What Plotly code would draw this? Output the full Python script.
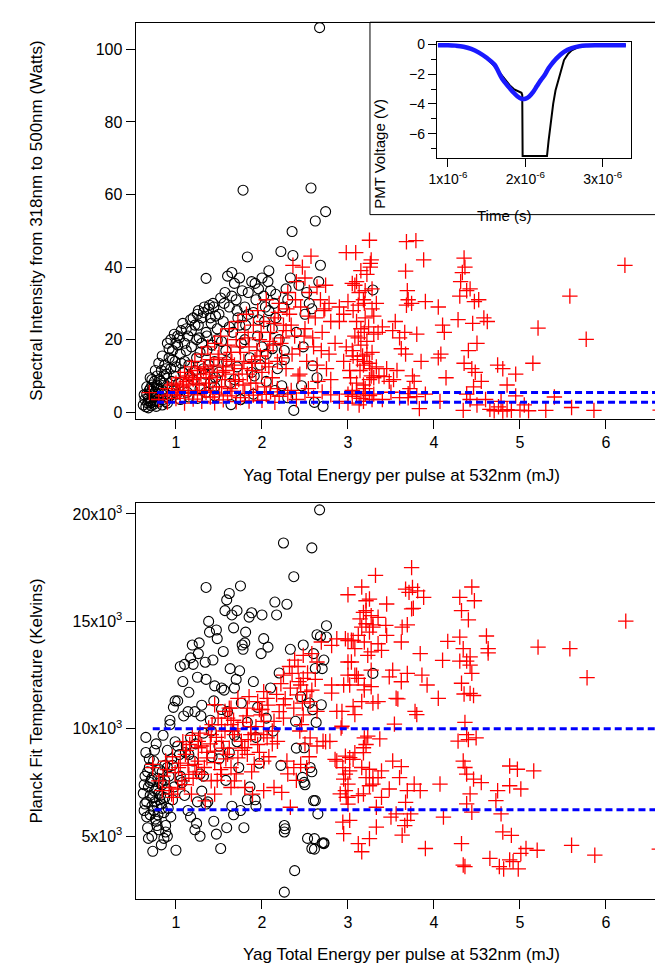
import plotly.graph_objects as go

# ---- top panel: spectral intensity (W) vs YAG energy (mJ) ----
top_black_e = [
    0.62, 0.64, 0.65, 0.66, 0.67, 0.68, 0.69, 0.70, 0.71, 0.72,
    0.73, 0.74, 0.75, 0.76, 0.77, 0.78, 0.79, 0.80, 0.81, 0.82,
    0.83, 0.84, 0.85, 0.86, 0.87, 0.88, 0.89, 0.90, 0.91, 0.92,
    0.93, 0.94, 0.95, 0.96, 0.97, 0.98, 0.99, 1.00, 1.01, 1.02,
    0.63, 0.66, 0.68, 0.70, 0.72, 0.75, 0.78, 0.80, 0.84, 0.88,
    0.68, 0.71, 0.74, 0.77, 0.91, 1.05, 1.15, 1.25, 1.35, 1.45,
    1.03, 1.05, 1.06, 1.08, 1.10, 1.12, 1.13, 1.15, 1.17, 1.18,
    1.20, 1.22, 1.24, 1.25, 1.27, 1.28, 1.30, 1.32, 1.33, 1.35,
    1.36, 1.38, 1.40, 1.41, 1.43, 1.45, 1.46, 1.48, 1.50, 1.52,
    1.35, 1.39, 1.26, 1.45, 1.55, 1.57, 1.58, 1.60, 1.62, 1.63,
    1.65, 1.66, 1.68, 1.70, 1.71, 1.72, 1.74, 1.75, 1.76, 1.78,
    1.80, 1.81, 1.83, 1.84, 1.86, 1.88, 1.90, 1.91, 1.93, 1.95,
    1.96, 1.98, 2.00, 2.02, 2.03, 2.05, 2.07, 2.08, 2.10, 2.12,
    2.14, 2.16, 2.18, 2.20, 2.22, 2.23, 2.25, 2.26, 2.28, 2.30,
    2.33, 2.35, 2.36, 2.37, 2.40, 2.43, 2.46, 2.48, 2.50, 2.52,
    2.55, 2.57, 2.59, 2.61, 2.62, 2.64, 2.66, 2.67, 2.68, 2.71,
    2.74, 3.29, 1.64, 1.75, 2.26, 2.58, 2.30, 2.15, 2.05, 1.90,
    0.70, 0.72, 0.74, 0.76, 0.78, 0.80, 0.82, 0.84, 0.86, 0.88,
    0.90, 0.92, 0.94, 0.96, 0.98, 1.00, 1.02, 1.04, 1.06, 1.08,
    1.10, 1.12, 1.14, 1.16, 1.18, 1.20, 1.22, 1.24, 1.26, 1.28,
    1.30, 1.32, 1.34, 1.36, 1.38, 1.40, 1.42, 1.44, 1.46, 1.48,
    1.50, 1.53, 1.56, 1.59, 1.62, 1.65, 1.68, 1.71, 1.74, 1.77,
    1.80, 1.84, 1.88, 1.92, 1.96, 2.00, 2.04, 2.08, 2.12, 2.16,
]
top_black_w = [
    2.0, 3.5, 1.5, 5.0, 2.5, 4.0, 6.0, 3.0, 1.8, 7.5,
    4.5, 2.2, 8.5, 5.5, 3.2, 10.0, 6.5, 2.8, 9.0, 4.2,
    11.5, 6.0, 3.5, 8.0, 13.0, 5.0, 10.5, 2.5, 7.0, 15.0,
    4.5, 12.0, 8.5, 17.0, 6.0, 10.0, 14.0, 19.0, 5.0, 21.0,
    4.8, 7.0, 1.2, 9.5, 5.8, 3.0, 7.5, 5.2, 2.0, 3.0,
    3.2, 2.6, 6.8, 1.6, 4.0, 3.5, 4.2, 3.8, 5.5, 7.0,
    8.0, 16.0, 22.5, 11.0, 19.0, 23.0, 5.5, 13.0, 25.5, 18.0,
    9.0, 24.0, 15.0, 27.0, 20.5, 6.5, 26.0, 12.0, 29.0, 22.0,
    17.0, 28.5, 8.0, 24.5, 30.0, 14.0, 26.5, 20.0, 11.0, 31.5,
    36.9, 29.5, 28.0, 4.5, 25.0, 33.0, 17.0, 37.5, 29.0, 8.0,
    38.5, 22.0, 35.5, 31.0, 12.5, 26.0, 37.0, 3.5, 19.0, 61.2,
    29.0, 24.0, 42.8, 33.0, 15.0, 36.0, 27.5, 10.0, 31.0, 21.0,
    34.0, 13.0, 37.0, 32.0, 25.0, 16.0, 36.0, 28.0, 33.5, 23.0,
    30.0, 26.0, 12.0, 20.0, 44.3, 7.3, 29.0, 14.5, 34.0, 31.0,
    37.0, 49.8, 43.2, 0.5, 22.0, 35.0, 7.3, 18.0, 27.0, 33.0,
    30.0, 61.8, 12.8, 2.7, 52.7, 9.5, 36.0, 106.0, 40.5, 1.6,
    55.3, 33.7, 2.1, 3.5, 17.0, 28.5, 4.0, 6.0, 8.5, 5.0,
    6.5, 9.0, 4.0, 11.5, 7.0, 13.5, 8.5, 15.5, 10.0, 12.0,
    19.0, 17.5, 20.0, 14.5, 21.5, 12.5, 18.5, 20.5, 13.5, 24.5,
    14.0, 17.0, 21.0, 10.0, 22.5, 26.0, 11.5, 20.0, 24.0, 16.5,
    19.0, 27.5, 10.5, 21.0, 13.0, 26.0, 18.5, 29.0, 9.5, 23.0,
    27.0, 19.5, 30.0, 14.0, 23.5, 32.0, 9.0, 28.0, 24.0, 33.5,
    20.0, 27.0, 11.0, 35.5, 25.5, 18.0, 29.0, 39.0, 17.5, 32.5,
]

top_red_e = [
    0.69, 0.80, 0.85, 0.90, 0.95, 1.00, 1.05, 1.10, 1.15, 1.20,
    1.25, 1.30, 1.35, 1.40, 1.45, 1.50, 1.55, 1.60, 1.65, 1.70,
    1.75, 1.80, 1.85, 1.90, 1.95, 2.00, 2.05, 2.10, 2.15, 2.20,
    2.30, 2.40, 2.50, 2.60, 2.70, 2.80, 2.90, 3.00, 3.05, 3.10,
    3.15, 3.20, 3.25, 3.30, 3.40, 3.50, 3.60, 3.70, 3.80, 3.90,
    0.90, 0.95, 1.00, 1.02, 1.05, 1.08, 1.10, 1.12, 1.15, 1.18,
    1.20, 1.22, 1.25, 1.27, 1.30, 1.32, 1.35, 1.37, 1.40, 1.42,
    1.45, 1.47, 1.50, 1.52, 1.55, 1.57, 1.60, 1.62, 1.65, 1.67,
    1.70, 1.72, 1.75, 1.77, 1.80, 1.82, 1.85, 1.87, 1.90, 1.92,
    1.95, 1.97, 2.00, 2.02, 2.05, 2.07, 2.10, 2.12, 2.15, 2.18,
    2.20, 2.22, 2.25, 2.28, 2.30, 2.32, 2.35, 2.38, 2.40, 2.42,
    2.45, 2.47, 2.50, 2.52, 2.55, 2.57, 2.60, 2.62, 2.65, 2.68,
    2.70, 2.72, 2.75, 2.78, 2.80, 2.85, 2.90, 2.95, 2.98, 2.50,
    1.33, 1.38, 1.43, 1.48, 1.53, 1.58, 1.63, 1.68, 1.73, 1.78,
    1.83, 1.88, 1.93, 1.98, 2.03, 2.08, 2.13, 2.18, 2.23, 2.28,
    3.25, 3.09, 3.27, 3.26, 3.15, 3.22, 3.26, 3.05, 3.10, 3.08,
    3.20, 3.28, 3.19, 2.78, 2.73, 2.80, 2.90, 2.95, 3.00, 3.06,
    3.12, 3.18, 3.28, 3.33, 3.15, 3.19, 3.24, 3.30, 3.12, 3.35,
    3.52, 3.40, 2.98, 3.06, 3.11, 3.17, 3.22, 3.19, 3.25, 3.28,
    3.33, 3.02, 3.14, 3.27, 3.30, 3.25, 3.10, 3.03, 3.18, 3.36,
    3.42, 3.48, 3.45, 3.05, 3.10, 3.20, 3.18, 3.00, 3.13, 3.28,
    3.68, 3.79, 3.67, 3.88, 3.69, 3.70, 3.68, 3.74, 3.90, 3.55,
    3.60, 3.66, 3.80, 3.62, 3.67, 3.85, 4.05, 3.57, 3.53, 3.75,
    3.77, 3.72, 3.83, 3.70, 4.05, 4.10, 4.12, 4.08, 4.14, 4.07,
    4.35, 4.33, 4.36, 4.31, 4.38, 4.30, 4.42, 4.47, 4.28, 4.52,
    4.62, 4.58, 4.45, 4.40, 4.50, 4.35, 4.44, 4.48, 4.55, 4.38,
    4.42, 4.46, 4.34, 4.50, 4.65, 4.70, 4.75, 4.80, 4.85, 4.90,
    4.74, 4.80, 4.95, 4.85, 4.78, 4.95, 5.00, 5.10, 5.15, 5.21,
    5.30, 5.58, 5.60, 5.77, 5.86, 6.22, 6.63, 5.40, 4.60, 5.05,
    1.04, 1.09, 1.14, 1.19, 1.24, 1.29, 1.34, 1.39, 1.44, 1.49,
    1.54, 1.59, 1.64, 1.69, 1.74, 1.79, 1.84, 1.89, 1.94, 1.99,
    2.04, 2.09, 2.14, 2.19, 2.24, 2.29, 2.34, 2.39, 2.44, 2.49,
    2.54, 2.59, 2.64, 2.69, 2.74, 2.34, 2.44, 2.54, 2.64, 2.36,
    3.05, 3.15, 3.22, 3.10, 3.20, 3.30, 3.08, 3.18, 3.28, 3.13,
]
top_red_w = [
    5.4, 3.5, 4.5, 2.8, 5.0, 3.8, 4.6, 2.5, 5.2, 3.6,
    4.8, 3.0, 5.5, 4.2, 2.6, 5.0, 3.4, 4.5, 5.8, 2.9,
    4.0, 5.2, 3.1, 4.7, 5.5, 3.3, 4.9, 5.6, 2.7, 4.4,
    5.0, 3.5, 5.3, 4.1, 5.6, 4.8, 3.0, 5.0, 4.4, 5.6,
    3.8, 5.2, 4.6, 5.0, 3.5, 5.5, 4.0, 5.1, 4.3, 5.0,
    6.5, 7.5, 8.0, 6.0, 9.5, 7.0, 11.0, 8.5, 10.0, 12.5,
    9.0, 14.0, 11.5, 7.5, 16.0, 12.0, 9.5, 18.0, 14.5, 11.0,
    19.0, 7.0, 16.0, 21.0, 12.5, 9.0, 18.5, 23.0, 14.0, 10.5,
    20.0, 25.0, 16.5, 12.0, 22.0, 27.0, 18.0, 8.0, 24.0, 14.5,
    28.0, 20.0, 11.0, 25.0, 31.0, 17.0, 22.0, 9.5, 26.0, 14.0,
    30.0, 19.0, 24.0, 12.0, 33.0, 27.0, 16.0, 21.0, 36.0, 10.0,
    29.0, 40.0, 23.0, 14.0, 33.0, 43.0, 18.0, 26.0, 8.5, 31.0,
    22.0, 28.0, 12.0, 16.0, 9.0, 19.0, 25.0, 14.0, 44.0, 37.0,
    6.0, 8.0, 5.5, 10.0, 7.0, 11.5, 6.5, 13.0, 9.0, 7.5,
    10.5, 13.5, 8.0, 15.5, 7.0, 12.5, 18.5, 6.5, 15.0, 22.5,
    47.4, 44.0, 42.0, 41.0, 39.0, 38.0, 40.0, 35.5, 36.0, 35.0,
    33.5, 34.0, 30.0, 30.0, 28.5, 25.0, 29.0, 27.0, 30.5, 28.0,
    29.5, 31.0, 28.5, 30.0, 23.0, 22.0, 23.5, 21.5, 20.5, 22.0,
    22.5, 23.5, 18.0, 15.5, 14.5, 15.5, 16.0, 14.0, 13.5, 12.0,
    12.5, 11.5, 11.5, 10.0, 9.5, 9.0, 8.0, 9.5, 7.5, 10.0,
    9.8, 8.5, 12.0, 6.0, 5.0, 6.5, 3.0, 2.5, 2.0, 3.5,
    47.0, 47.3, 38.9, 42.0, 33.5, 31.0, 29.5, 30.0, 30.5, 25.0,
    20.5, 22.0, 21.5, 17.5, 16.0, 14.0, 15.0, 11.5, 9.0, 10.0,
    8.5, 6.5, 1.0, 4.0, 29.0, 24.0, 22.0, 16.0, 9.5, 3.0,
    42.5, 38.5, 40.0, 36.0, 33.5, 32.0, 34.0, 30.5, 25.5, 31.0,
    25.0, 26.0, 24.5, 17.0, 19.0, 13.5, 12.0, 11.0, 8.5, 5.0,
    3.5, 7.0, 0.5, 2.0, 0.8, 0.4, 1.5, 0.3, 0.7, 0.5,
    13.0, 12.0, 10.5, 7.5, 3.0, 4.5, 0.6, 0.4, 13.5, 23.2,
    0.5, 32.0, 1.3, 20.1, 0.5, 40.5, 0.6, 4.2, 3.5, 2.0,
    5.5, 7.5, 6.0, 9.5, 8.0, 10.5, 12.5, 9.5, 13.0, 15.0,
    11.0, 14.5, 16.5, 8.5, 18.0, 14.0, 20.5, 11.5, 17.0, 22.0,
    13.5, 19.5, 24.5, 27.5, 20.5, 28.5, 24.0, 31.0, 17.5, 21.0,
    26.5, 20.5, 34.5, 17.0, 35.0, 6.0, 10.5, 6.5, 13.0, 40.5,
    17.0, 18.5, 19.5, 25.0, 26.0, 26.5, 21.0, 13.0, 16.5, 33.0,
]

# ---- bottom panel: Planck fit temperature (K) vs YAG energy (mJ) ----
bottom_black_e = [
    0.62, 0.63, 0.64, 0.65, 0.66, 0.67, 0.68, 0.69, 0.70, 0.71,
    0.72, 0.73, 0.74, 0.75, 0.76, 0.77, 0.78, 0.79, 0.80, 0.81,
    0.82, 0.83, 0.84, 0.85, 0.86, 0.87, 0.88, 0.89, 0.90, 0.91,
    0.92, 0.93, 0.94, 0.95, 0.96, 0.97, 0.98, 0.99, 1.00, 0.65,
    0.68, 0.70, 0.73, 0.75, 0.77, 0.80, 0.83, 0.86, 0.88, 0.90,
    0.64, 0.67, 0.70, 0.72, 0.74, 0.77, 0.79, 0.82, 0.84, 0.87,
    1.02, 1.04, 1.05, 1.07, 1.09, 1.10, 1.12, 1.14, 1.15, 1.17,
    1.19, 1.20, 1.22, 1.24, 1.25, 1.27, 1.28, 1.30, 1.32, 1.34,
    1.35, 1.37, 1.39, 1.40, 1.42, 1.43, 1.45, 1.47, 1.48, 1.50,
    1.52, 1.53, 1.55, 1.57, 1.58, 1.60, 1.62, 1.63, 1.65, 1.67,
    1.68, 1.70, 1.71, 1.73, 1.75, 1.76, 1.78, 1.79, 1.81, 1.83,
    1.85, 1.86, 1.88, 1.90, 1.92, 1.93, 1.95, 1.97, 1.99, 2.00,
    2.02, 2.05, 2.07, 2.10, 2.13, 2.15, 2.17, 2.20, 2.22, 2.25,
    2.26, 2.26, 2.27, 2.26, 2.29, 2.33, 2.37, 2.38, 2.40, 2.45,
    2.48, 2.50, 2.53, 2.55, 2.58, 2.58, 2.60, 2.61, 2.63, 2.67,
    2.68, 2.70, 2.72, 2.72, 2.75, 1.17, 1.22, 1.28, 1.44, 1.59,
    1.67, 1.75, 1.83, 1.93, 1.25, 1.35, 1.10, 1.05, 1.15, 1.30,
    2.69, 2.59, 2.39, 2.49, 2.56, 2.47, 2.49, 2.62, 2.64, 2.75,
    3.29, 2.62, 2.60, 2.65, 2.61, 2.70, 2.58, 2.72,
    0.63, 0.66, 0.69, 0.72, 0.75, 0.78, 0.81, 0.84, 0.87, 0.90,
    0.93, 0.96, 0.99, 1.02, 1.05, 1.08, 1.11, 1.14, 1.17, 1.20,
    1.23, 1.26, 1.29, 1.32, 1.35, 1.38, 1.41, 1.44, 1.47, 1.50,
    1.53, 1.56, 1.59, 1.62, 1.65, 1.68, 1.71, 1.74, 1.77, 1.80,
]
bottom_black_t = [
    7000, 6200, 7800, 8900, 6600, 5400, 7300, 8200, 6000, 7600,
    5000, 6800, 8500, 7100, 5800, 9300, 6400, 7700, 5300, 8100,
    6900, 4600, 7400, 9700, 6100, 8300, 5500, 7200, 9000, 6300,
    7800, 10200, 5900, 8600, 6700, 11000, 7300, 9400, 4350, 9600,
    4900, 7500, 4300, 6600, 5700, 7000, 6500, 4900, 5200, 5000,
    6500, 8000, 6900, 7700, 6200, 7200, 6000, 7500, 6300, 6800,
    11300, 8800, 12900, 7500, 10600, 13000, 9200, 6200, 11700, 13300,
    13900, 8500, 10800, 5600, 12400, 14000, 7900, 11100, 9800, 13100,
    16580, 6600, 14500, 10400, 8700, 13200, 12000, 5100, 14200, 9200,
    4430, 11900, 13600, 15500, 7600, 10800, 16300, 12800, 6400, 14700,
    9700, 12300, 15500, 8200, 16650, 11200, 13700, 5400, 14500, 10300,
    15200, 7300, 15400, 12200, 6700, 9600, 11000, 8400, 13500, 15300,
    14200, 10500, 13800, 11900, 9900, 15900, 15300, 12600, 8300, 18650,
    5200, 5500, 5350, 2400, 15800, 13700, 17080, 3400, 9100, 11500,
    13900, 7400, 4900, 11200, 18420, 8000, 13500, 4400, 10300, 20190,
    14300, 12800, 4660, 4700, 14800, 5900, 5300, 5000, 5700, 5400,
    6000, 6200, 6700, 6400, 6600, 6500, 6900, 7800, 8800, 7100,
    11120, 10890, 10350, 9120, 8200, 7740, 7510, 6660, 14380, 14270,
    12580, 12810, 6660, 6040, 4890, 4690, 4430, 13200,
    7400, 5900, 8600, 6400, 9000, 5500, 6700, 8000, 7600, 8200,
    10400, 8300, 11300, 9200, 7600, 12200, 8900, 10800, 9600, 13000,
    9300, 13500, 10600, 7800, 12300, 15000, 9900, 11300, 14600, 8600,
    10900, 11800, 16000, 8900, 15300, 11900, 9400, 12700, 13900, 14000,
]

bottom_red_e = [
    0.73, 0.80, 0.92, 0.97, 0.99, 1.11, 1.26, 1.41, 1.53, 1.64,
    1.72, 1.85, 1.95, 2.06, 1.62, 1.83, 2.02, 2.25, 2.35, 2.45,
    2.48, 2.58, 2.64, 2.41, 2.37, 2.48, 2.46, 2.56, 2.64, 2.71,
    2.81, 2.87, 2.69, 2.25, 2.14, 2.02, 2.06, 1.95, 1.80, 1.68,
    1.53, 1.45, 1.36, 1.22, 1.15, 1.07, 1.03, 1.30, 1.41, 1.53,
    1.64, 1.72, 1.83, 1.91, 1.64, 1.45, 1.34, 1.18, 0.95, 1.68,
    1.80, 1.89, 2.02, 2.14, 2.23, 2.33, 2.29, 2.37, 2.45, 2.52,
    2.02, 2.18, 1.99, 1.64, 1.49, 1.38, 1.26, 1.16, 1.26, 1.45,
    1.60, 1.76, 1.87, 1.45, 1.60, 1.57, 2.48, 2.43, 2.52, 2.33,
    2.25, 2.56, 2.64, 2.94, 3.02, 2.87, 2.79, 2.92, 3.02, 3.00,
    3.10, 3.06, 3.00, 2.98, 3.00, 2.94, 0.88, 0.73, 0.84, 1.10,
    1.05, 1.12, 1.20, 1.28, 1.33, 1.40, 1.48, 1.55, 1.58, 1.66,
    1.70, 1.78, 1.84, 1.88, 1.93, 1.97, 2.00, 2.08, 2.12, 2.20,
    3.00, 3.16, 3.32, 3.21, 3.25, 3.18, 3.21, 3.27, 3.45, 3.14,
    3.16, 3.21, 3.29, 3.29, 3.35, 3.44, 3.25, 3.12, 2.97, 3.04,
    3.19, 3.08, 3.39, 3.35, 3.27, 3.23, 3.04, 3.27, 3.00, 3.08,
    3.12, 3.19, 3.19, 3.27, 2.95, 2.81, 2.81, 3.35, 3.29, 3.16,
    3.06, 3.08, 2.93, 2.87, 3.74, 3.67, 3.71, 3.75, 3.81, 3.88,
    3.74, 3.76, 3.62, 3.63, 3.69, 3.45, 3.52, 3.48, 3.62, 3.69,
    3.84, 3.86, 3.92, 3.56, 3.58, 3.78, 3.80, 3.54, 2.93, 4.30,
    4.44, 4.47, 4.32, 4.40, 4.61, 4.63, 4.63, 4.16, 4.30, 4.34,
    4.42, 4.30, 4.38, 4.42, 4.44, 4.32, 4.42, 4.35, 4.46, 4.05,
    4.10, 5.21, 5.58, 5.78, 6.23, 4.36, 4.38, 4.28, 4.49, 4.40,
    3.19, 3.23, 3.18, 3.37, 3.21, 2.74, 2.85, 2.97, 3.02, 3.06,
    3.18, 3.08, 3.52, 3.62, 3.39, 3.25, 3.21, 3.29, 3.16, 2.97,
    2.95, 3.00, 2.97, 2.91, 3.00, 3.12, 3.18, 3.25, 3.29, 3.35,
    3.48, 3.60, 3.69, 3.77, 3.84, 3.67, 3.39, 3.33, 4.34, 4.36,
    4.38, 4.46, 4.55, 4.07, 4.42, 4.38, 4.74, 4.72, 4.88, 4.88,
    4.97, 5.16, 5.01, 4.44, 4.78, 4.80, 4.90, 4.32, 4.34, 4.36,
    4.65, 4.76, 4.81, 4.88, 4.92, 4.98, 5.01, 5.07, 5.20, 5.60,
    5.87, 6.62, 3.90, 3.16, 3.12, 3.25, 2.95, 3.02, 3.33, 3.63,
    3.69, 3.66, 3.50, 3.56, 3.73, 4.11,
    0.85, 0.90, 0.96, 1.02, 1.08, 1.14, 1.19, 1.24, 1.30, 1.36,
    1.42, 1.47, 1.52, 1.57, 1.62, 1.67, 1.72, 1.77, 1.82, 1.87,
    1.92, 1.97, 2.02, 2.07, 2.12, 2.17, 2.22, 2.27, 2.32, 2.38,
    2.42, 2.47, 2.53, 2.58, 2.62, 2.44, 2.50, 2.55, 2.40, 2.30,
]
bottom_red_t = [
    8350, 7580, 7270, 6810, 7960, 8810, 9120, 9730, 10200, 10960,
    11420, 11500, 11270, 11420, 10960, 10960, 11730, 12500, 12580, 12040,
    13420, 13500, 13110, 11580, 10960, 10650, 10200, 11270, 10810, 9420,
    13880, 14190, 14040, 11120, 10350, 10350, 9580, 9270, 9120, 9730,
    9420, 8960, 8650, 8350, 7880, 7580, 8190, 7880, 7580, 7880,
    8190, 8650, 8810, 8350, 7270, 6960, 6650, 6960, 6960, 7580,
    7270, 6960, 7120, 7270, 7040, 6350, 8500, 8190, 8350, 8190,
    9730, 9420, 10650, 10200, 10500, 10040, 9420, 9270, 8500, 8430,
    8810, 9420, 9730, 11120, 10500, 10810, 12350, 12200, 11730, 11890,
    10500, 9580, 9200, 8190, 8040, 8500, 9420, 10040, 12040, 13110,
    12500, 14110, 14110, 6810, 6500, 5660, 8500, 8190, 7120, 7400,
    8400, 9000, 7700, 9800, 8200, 9300, 7600, 9100, 8600, 9900,
    7900, 10300, 9500, 8000, 10100, 8900, 10900, 8700, 9900, 10800,
    16240, 16600, 17140, 15960, 16040, 15420, 15500, 15270, 15810, 15120,
    14730, 14890, 14840, 14730, 15190, 14810, 14500, 14350, 14190, 14120,
    14040, 13730, 13650, 13960, 13580, 13420, 13110, 12730, 12500, 12500,
    12350, 12040, 11810, 11960, 12040, 12040, 11660, 11270, 11200, 11270,
    11040, 10660, 10810, 10810, 17500, 16500, 16350, 16580, 16420, 16120,
    15580, 15610, 14040, 14730, 14840, 14350, 12730, 12420, 12190, 12580,
    13500, 12500, 12040, 11420, 11390, 10810, 10660, 10220, 10120, 16120,
    16600, 15960, 15500, 15070, 14320, 13730, 13530, 14070, 14270, 13730,
    13350, 13150, 13150, 12960, 12580, 12120, 11650, 11620, 11550, 11420,
    13190, 13800, 13730, 12380, 15010, 10300, 9730, 9430, 9580, 9500,
    9580, 9660, 9120, 9530, 9270, 9400, 8580, 8730, 8660, 8580,
    8890, 8890, 8500, 8240, 8040, 8120, 7730, 7730, 8200, 7890,
    7660, 7430, 7120, 6970, 6810, 6890, 6970, 7350, 7430, 7730,
    7200, 7730, 7120, 7430, 7120, 6580, 6810, 6350, 8500, 8200,
    7890, 7660, 7500, 7430, 6970, 6510, 7120, 6660, 7350, 8270,
    8120, 8040, 7200, 6120, 6040, 5200, 5040, 4660, 3660, 3590,
    3970, 3590, 3480, 3900, 3820, 3480, 4200, 4430, 4350, 4580,
    4120, 4400, 4430, 4280, 4660, 4890, 5120, 5740, 5430, 5050,
    5740, 5500, 5890, 6040, 6040, 5890,
    7800, 8100, 8700, 7200, 9400, 8300, 9700, 8000, 9200, 8900,
    10200, 9600, 8100, 9900, 9100, 10400, 10000, 9000, 10600, 10100,
    9800, 10900, 8500, 11100, 9300, 11600, 12100, 11400, 12900, 13200,
    12900, 11200, 12600, 11800, 12300, 9900, 9300, 8700, 7600, 7900,
]

# dashed threshold lines (start energy, level)
top_thresholds = [5.45, 2.73]
top_threshold_start = [0.78, 0.78]
bottom_thresholds = [10000, 6230]
bottom_threshold_start = [0.73, 0.75]
energy_max = 6.71

# ---- inset: PMT traces, time in units of 1e-6 s ----
pmt_blue_t = [0.87, 1.0, 1.1, 1.2, 1.3, 1.4, 1.5, 1.6, 1.7, 1.8, 1.85, 1.9, 1.95,
              2.0, 2.05, 2.1, 2.15, 2.2, 2.25, 2.3, 2.35, 2.4, 2.5, 2.6, 2.7, 2.8,
              2.9, 3.0, 3.1, 3.2, 3.3]
pmt_blue_v = [-0.05, -0.05, -0.08, -0.15, -0.3, -0.55, -0.9, -1.35, -2.3, -2.95,
              -3.25, -3.5, -3.65, -3.65, -3.5, -3.2, -2.8, -2.4, -2.05, -1.6, -1.25,
              -0.95, -0.5, -0.25, -0.12, -0.07, -0.05, -0.05, -0.05, -0.05, -0.05]
pmt_black_t = [0.87, 1.0, 1.1, 1.2, 1.3, 1.4, 1.5, 1.6, 1.7, 1.75, 1.8, 1.85, 1.9,
               1.95, 1.96, 1.965, 2.1, 2.28, 2.3, 2.33, 2.36, 2.39, 2.42, 2.45, 2.5,
               2.55, 2.6, 2.7, 2.8, 3.0, 3.3]
pmt_black_v = [-0.05, -0.05, -0.08, -0.15, -0.3, -0.55, -0.95, -1.45, -2.1, -2.45,
               -2.75, -3.0, -3.1, -3.25, -3.4, -7.5, -7.5, -7.5, -6.5, -5.2, -4.0,
               -3.1, -2.5, -1.9, -1.05, -0.65, -0.4, -0.15, -0.07, -0.05, -0.05]

W, H = 663, 963
FONT = "Liberation Sans, Arial, Helvetica, sans-serif"


def px_x(p):
    return p / W


def px_y(p):
    return 1 - p / H


circle = dict(symbol="circle-open", size=10, color="black", line=dict(color="black", width=1.1))
cross = dict(symbol="cross-thin", size=11, color="red", line=dict(color="red", width=1.3))
dash_line = dict(color="#0000ff", width=3, dash="7px,4px")

fig = go.Figure()

fig.add_trace(go.Scatter(x=top_black_e, y=top_black_w, mode="markers", marker=circle,
                         xaxis="x", yaxis="y", showlegend=False))
fig.add_trace(go.Scatter(x=top_red_e, y=top_red_w, mode="markers", marker=cross,
                         xaxis="x", yaxis="y", showlegend=False))
for lvl, x0 in zip(top_thresholds, top_threshold_start):
    fig.add_trace(go.Scatter(x=[x0, energy_max], y=[lvl, lvl], mode="lines", line=dash_line,
                             xaxis="x", yaxis="y", showlegend=False))

fig.add_trace(go.Scatter(x=bottom_black_e, y=bottom_black_t, mode="markers", marker=circle,
                         xaxis="x2", yaxis="y2", showlegend=False))
fig.add_trace(go.Scatter(x=bottom_red_e, y=bottom_red_t, mode="markers", marker=cross,
                         xaxis="x2", yaxis="y2", showlegend=False))
for lvl, x0 in zip(bottom_thresholds, bottom_threshold_start):
    fig.add_trace(go.Scatter(x=[x0, energy_max], y=[lvl, lvl], mode="lines", line=dash_line,
                             xaxis="x2", yaxis="y2", showlegend=False))

fig.add_trace(go.Scatter(x=pmt_black_t, y=pmt_black_v, mode="lines",
                         line=dict(color="black", width=2), xaxis="x3", yaxis="y3",
                         showlegend=False))
fig.add_trace(go.Scatter(x=pmt_blue_t, y=pmt_blue_v, mode="lines",
                         line=dict(color="#1a1aff", width=4.5, shape="spline"),
                         xaxis="x3", yaxis="y3", showlegend=False))

axis_common = dict(showline=True, mirror=True, linecolor="black", linewidth=1,
                   ticks="outside", ticklen=9, tickwidth=1, tickcolor="black",
                   showgrid=False, zeroline=False,
                   tickfont=dict(family=FONT, size=16, color="black"))
inset_axis = {**axis_common, "ticklen": 8,
              "tickfont": dict(family=FONT, size=14, color="black")}

x_dom = [px_x(121), px_x(659)]
fig.update_layout(
    width=W, height=H,
    margin=dict(l=0, r=0, t=0, b=0),
    paper_bgcolor="white", plot_bgcolor="white",
    xaxis=dict(domain=x_dom, range=[0.53, 6.71], anchor="y",
               tickvals=[1, 2, 3, 4, 5, 6], **axis_common),
    yaxis=dict(domain=[px_y(408.5), px_y(9)], range=[-1.9, 107.3], anchor="x",
               tickvals=[0, 20, 40, 60, 80, 100], **axis_common),
    xaxis2=dict(domain=x_dom, range=[0.53, 6.71], anchor="y2",
                tickvals=[1, 2, 3, 4, 5, 6], **axis_common),
    yaxis2=dict(domain=[px_y(892), px_y(493.3)], range=[2100, 20500], anchor="x2",
                tickvals=[5000, 10000, 15000, 20000],
                ticktext=["5x10<sup>3</sup>", "10x10<sup>3</sup>",
                          "15x10<sup>3</sup>", "20x10<sup>3</sup>"],
                **axis_common),
    xaxis3=dict(domain=[px_x(426), px_x(622.5)], range=[0.856, 3.366], anchor="y3",
                tickvals=[1, 2, 3],
                ticktext=["1x10<sup>-6</sup>", "2x10<sup>-6</sup>", "3x10<sup>-6</sup>"],
                **inset_axis),
    yaxis3=dict(domain=[px_y(145), px_y(28.3)], range=[-7.62, 0.16], anchor="x3",
                tickvals=[0, -2, -4, -6],
                minor=dict(tickvals=[-1, -3, -5, -7], ticks="outside", ticklen=5,
                           tickcolor="black", showgrid=False),
                **inset_axis),
    shapes=[dict(type="rect", xref="paper", yref="paper",
                 x0=px_x(358.3), x1=px_x(661), y0=px_y(202.3), y1=px_y(8.3),
                 fillcolor="white", line=dict(color="black", width=1), layer="below")],
)

title_font = dict(family=FONT, size=17, color="black")
annotations = [
    dict(text="Spectral Intensity from 318nm to 500nm (Watts)", x=px_x(21),
         y=px_y(208.7), textangle=-90),
    dict(text="Yag Total Energy per pulse at 532nm (mJ)", x=px_x(390), y=px_y(465)),
    dict(text="Planck Fit Temperature (Kelvins)", x=px_x(21), y=px_y(692.6), textangle=-90),
    dict(text="Yag Total Energy per pulse at 532nm (mJ)", x=px_x(390), y=px_y(948)),
]
for a in annotations:
    fig.add_annotation(xref="paper", yref="paper", showarrow=False, xanchor="center",
                       yanchor="middle", font=title_font, **a)
fig.add_annotation(text="Time (s)", x=px_x(523), y=px_y(193), xref="paper", yref="paper",
                   showarrow=False, font=dict(family=FONT, size=15, color="black"))
fig.add_annotation(text="PMT Voltage (V)", x=px_x(368), y=px_y(84), xref="paper",
                   yref="paper", showarrow=False, textangle=-90,
                   font=dict(family=FONT, size=15, color="black"))

fig.write_html("out.html")
